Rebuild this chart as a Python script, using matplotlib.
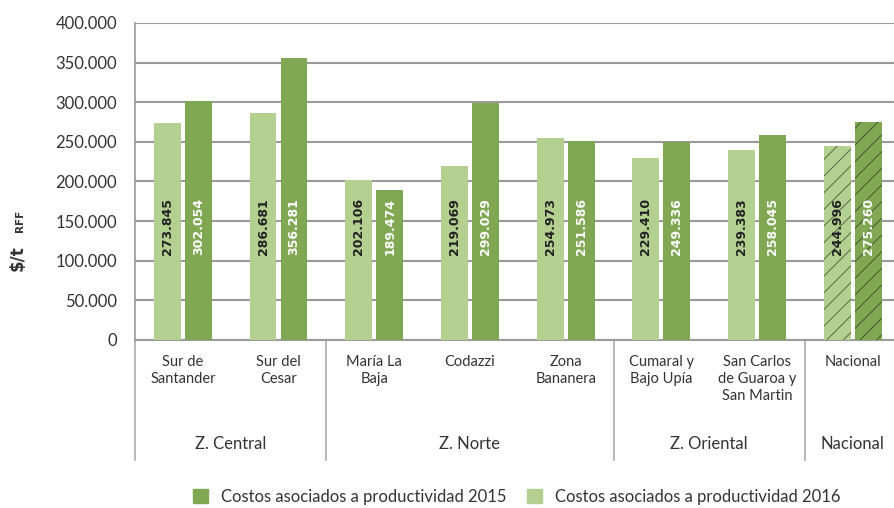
import matplotlib.pyplot as plt
from matplotlib.ticker import FuncFormatter
from matplotlib.patches import Patch
import numpy as np

plt.rcParams['font.family'] = ['Lato', 'DejaVu Sans']
plt.rcParams['hatch.linewidth'] = 0.6

# datos por núcleo palmero
nucleos = ["Sur de\nSantander", "Sur del\nCesar", "María La\nBaja", "Codazzi",
           "Zona\nBananera", "Cumaral y\nBajo Upía", "San Carlos\nde Guaroa y\nSan Martin",
           "Nacional"]
zonas = ["Z. Central", "Z. Norte", "Z. Oriental", "Nacional"]
zona_idx = [(0, 1), (2, 4), (5, 6), (7, 7)]
costos_2016 = [273845, 286681, 202106, 219069, 254973, 229410, 239383, 244996]
costos_2015 = [302054, 356281, 189474, 299029, 251586, 249336, 258045, 275260]

verde_claro = "#B3D091"
verde_oscuro = "#80A852"
gris = "#9A9A9A"

fig = plt.figure(figsize=(8.94, 5.08), dpi=100)
ax = fig.add_axes([135 / 894, 168 / 508, 1 - 135 / 894, 317 / 508])

x = np.arange(len(nucleos))
w = 0.28
off = 0.162
nac = len(nucleos) - 1

for i in x:
    hatch = "//" if i == nac else None
    ax.bar(i - off, costos_2016[i], w, color=verde_claro, hatch=hatch,
           edgecolor="#4a5a3a" if hatch else "none", linewidth=0, zorder=3)
    ax.bar(i + off, costos_2015[i], w, color=verde_oscuro, hatch=hatch,
           edgecolor="#3a4a2a" if hatch else "none", linewidth=0, zorder=3)
    ax.text(i - off, 143000, f"{costos_2016[i]:,}".replace(",", "."), rotation=90,
            ha="center", va="center", fontsize=9, fontweight="bold",
            family="DejaVu Sans", color="#222222", zorder=4)
    ax.text(i + off, 143000, f"{costos_2015[i]:,}".replace(",", "."), rotation=90,
            ha="center", va="center", fontsize=9, fontweight="bold",
            family="DejaVu Sans", color="white", zorder=4)

ax.set_ylim(0, 400000)
ax.set_xlim(-0.5, (894 - 135) / 95.7 - 0.5)
ax.set_yticks(np.arange(0, 400001, 50000))
ax.yaxis.set_major_formatter(FuncFormatter(lambda v, p: f"{int(v):,}".replace(",", ".")))
ax.tick_params(axis="y", length=0, pad=13, labelsize=12, labelcolor="#333333")
ax.set_xticks([])
ax.grid(axis="y", color=gris, linewidth=1.5, zorder=0)
ax.set_axisbelow(True)
for s in ["top", "right"]:
    ax.spines[s].set_visible(False)
ax.spines["left"].set_color(gris)
ax.spines["bottom"].set_color(gris)
ax.spines["left"].set_linewidth(1.2)
ax.spines["bottom"].set_linewidth(1.5)

# separadores de zonas bajo el eje
tr = ax.get_xaxis_transform()
for b in [-0.5, 1.5, 4.5, 6.5]:
    ax.plot([b, b], [0, -0.378], transform=tr, color="#AAAAAA", lw=1.2, clip_on=False)

for i, name in enumerate(nucleos):
    ax.text(i, -0.047, name, transform=tr, ha="center", va="top", fontsize=10.5,
            color="#333333", linespacing=1.3)

for z, (a, b) in zip(zonas, zona_idx):
    ax.text((a + b) / 2, -0.328, z, transform=tr, ha="center", va="center",
            fontsize=12, color="#333333")

# etiqueta del eje y: "$/t" y "RFF" en pequeño, texto vertical
ax.text(18 / 894, 250 / 508, "\\$/t", transform=fig.transFigure, rotation=90,
        ha="center", va="center", fontsize=12, fontweight="bold",
        color="#333333", family="DejaVu Sans", clip_on=False)
ax.text(20 / 894, (508 - 221) / 508, "RFF", transform=fig.transFigure, rotation=90,
        ha="center", va="center", fontsize=7.5, fontweight="bold",
        color="#333333", family="DejaVu Sans", clip_on=False)

handles = [Patch(color=verde_oscuro, label="Costos asociados a productividad 2015"),
           Patch(color=verde_claro, label="Costos asociados a productividad 2016")]
fig.legend(handles=handles, loc="center", bbox_to_anchor=(0.578, 0.022), ncol=2,
           frameon=False, fontsize=12, handlelength=0.9, handleheight=0.9,
           handletextpad=0.8, columnspacing=1.2, labelcolor="#333333")

fig.savefig("out.png", dpi=100)
